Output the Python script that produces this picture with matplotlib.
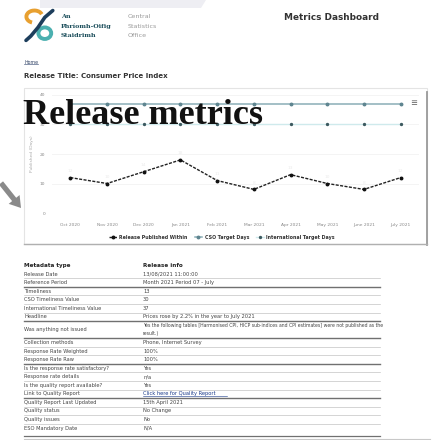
import matplotlib
matplotlib.use("Agg")
import matplotlib.pyplot as plt
from matplotlib.patches import Rectangle, Polygon, Circle, FancyArrow, Arc
from matplotlib.lines import Line2D

# ---------------- data ----------------
months = ["Oct 2020", "Nov 2020", "Dec 2020", "Jan 2021", "Feb 2021",
          "Mar 2021", "Apr 2021", "May 2021", "June 2021", "July 2021"]
published_within = [12, 10, 14, 18, 11, 8, 13, 10, 8, 12]
cso_target = [37, 37, 37, 37, 37, 37, 37, 37, 37, 37]
intl_target = [30, 30, 30, 30, 30, 30, 30, 30, 30, 30]
series_names = ["Release Published Within", "CSO Target Days", "International Target Days"]
y_ticks = [0, 10, 20, 30, 40]

meta_labels = ["Release Date", "Reference Period", "Timeliness", "CSO Timeliness Value",
               "International Timeliness Value", "Headline", "Was anything not issued",
               "Collection methods", "Response Rate Weighted", "Response Rate Raw",
               "Is the response rate satisfactory?", "Response rate details",
               "Is the quality report available?", "Link to Quality Report",
               "Quality Report Last Updated", "Quality status", "Quality issues",
               "ESO Mandatory Date"]
meta_values = ["13/08/2021 11:00:00", "Month 2021 Period 07 - July", "13", "30", "37",
               "Prices rose by 2.2% in the year to July 2021",
               "Yes the following tables [Harmonised CPI, HICP sub-indices and CPI estimates] were not published as the\nresult.)",
               "Phone, Internet Survey", "100%", "100%", "Yes", "n/a", "Yes",
               "Click here for Quality Report", "15th April 2021", "No Change", "No", "N/A"]

W, H = 436, 440
fig = plt.figure(figsize=(W / 100, H / 100), dpi=100)
fig.patch.set_facecolor("white")

def fx(x):
    return x / W

def fy(y):
    return 1 - y / H

# top grey tab
fig.patches.append(Polygon([(fx(40), fy(0)), (fx(206), fy(0)), (fx(201), fy(8)), (fx(40), fy(8))],
                           closed=True, transform=fig.transFigure, facecolor="#eeeef3",
                           edgecolor="none", zorder=-5))

# logo
lax = fig.add_axes([fx(20), fy(44), fx(40), (44 - 8) / H])
lax.set_xlim(0, 1); lax.set_ylim(0, 1); lax.axis("off")
lax.add_patch(Arc((0.36, 0.76), 0.40, 0.34, theta1=20, theta2=250, lw=2.8, color="#e8a030"))
lax.plot([0.82, 0.62, 0.45, 0.27, 0.15], [0.93, 0.74, 0.46, 0.22, 0.1], color="#1d3e5c", lw=2.6,
         solid_capstyle="round")
lax.add_patch(Circle((0.62, 0.3), 0.16, fill=False, lw=2.8, color="#4bb0b0"))

for yy, t in [(16.5, "An"), (26.5, "Phríomh-Oifig"), (35.5, "Staidrimh")]:
    fig.text(fx(61), fy(yy), t, fontsize=4.6, fontweight="bold", family="DejaVu Serif",
             color="#1d4f5c", va="center")
for yy, t in [(16.5, "Central"), (26.5, "Statistics"), (35.5, "Office")]:
    fig.text(fx(128), fy(yy), t, fontsize=4.6, color="#9a9a9a", va="center")

fig.text(fx(284), fy(17), "Metrics Dashboard", fontsize=6.4, fontweight="bold", color="#333333",
         va="center")
fig.text(fx(24), fy(62), "Home", fontsize=3.4, color="#334466", va="center")
fig.add_artist(Line2D([fx(24), fx(38)], [fy(64.5), fy(64.5)], color="#556688", lw=0.5))
fig.text(fx(24), fy(76), "Release Title: Consumer Price Index", fontsize=5.0, fontweight="bold",
         color="#333333", va="center")

# chart box
fig.patches.append(Rectangle((fx(24), fy(244)), fx(403), (244 - 88) / H, transform=fig.transFigure,
                             facecolor="white", edgecolor="#e4e4e4", lw=0.8, zorder=-5))
fig.add_artist(Line2D([fx(426.5), fx(426.5)], [fy(92), fy(245)], color="#9a9a9a", lw=1.3))
fig.add_artist(Line2D([fx(24), fx(427)], [fy(244.5), fy(244.5)], color="#b0b0b0", lw=1.0))

ax = fig.add_axes([fx(52), fy(213), fx(419 - 52), (213 - 95) / H])
ax.set_zorder(2)
x = list(range(len(months)))
ax.plot(x, intl_target, color="#cfeaec", lw=1.0, marker="o", ms=1.4, mfc="#3d5a60", mec="#3d5a60",
        label=series_names[2], zorder=2)
ax.plot(x, cso_target, color="#8aaeb6", lw=1.1, marker="o", ms=1.8, mfc="#5f8590", mec="#5f8590",
        label=series_names[1], zorder=3)
ax.plot(x, published_within, color="#222222", lw=1.0, ls=(0, (2.2, 1.0)), marker="o", ms=1.8,
        mfc="#111111", mec="#111111", label=series_names[0], zorder=4)
for xi, v in zip(x, published_within):
    ax.annotate(str(v), (xi, v), xytext=(0, 4), textcoords="offset points", ha="center",
                fontsize=3.2, color="#ececec")
ax.set_xlim(-0.5, len(months) - 0.5)
ax.set_ylim(0, 40)
ax.set_yticks(y_ticks)
ax.set_yticklabels([str(t) for t in y_ticks])
ax.set_xticks(x)
ax.set_xticklabels(months)
ax.tick_params(axis="both", length=0, labelsize=3.2, labelcolor="#888888")
ax.tick_params(axis="x", pad=7)
ax.tick_params(axis="y", pad=5)
for s in ax.spines.values():
    s.set_visible(False)
ax.grid(axis="y", color="#f2f2f2", lw=0.6)
ax.axhline(0, color="#e6e6e6", lw=0.6, ls=(0, (1, 1)))
ax.set_ylabel("Published (Days)", fontsize=3.2, color="#aaaaaa", labelpad=4)
ax.patch.set_alpha(0)

h, l = ax.get_legend_handles_labels()
order = [2, 1, 0]
leg = ax.legend([h[i] for i in order], [l[i] for i in order], loc="center",
                bbox_to_anchor=(fx(222), fy(237)), bbox_transform=fig.transFigure, ncol=3,
                frameon=False, fontsize=3.4, handlelength=1.6, columnspacing=1.5, handletextpad=0.5)
for t in leg.get_texts():
    t.set_color("#333333")
    t.set_fontweight("bold")

# menu icon
fig.text(fx(414), fy(103), "≡", fontsize=6, color="#777777", ha="center", va="center",
         fontweight="bold")

# big title overlay
fig.text(fx(23), fy(124), "Release metrics", fontsize=26, fontweight="bold",
         family="Liberation Serif", color="#111111", va="baseline", zorder=10)

# arrow
fig.patches.append(FancyArrow(fx(1), fy(183), fx(20), -(25 / H), width=0.012, head_width=0.032,
                              head_length=0.025, length_includes_head=True,
                              transform=fig.transFigure, color="#8a8a8a", lw=0))

# table
x1, x2, xr = 24, 143, 380
fs = 3.7
fig.text(fx(x1), fy(265), "Metadata type", fontsize=4.1, fontweight="bold", color="#222222", va="center")
fig.text(fx(x2), fy(265), "Release info", fontsize=4.1, fontweight="bold", color="#222222", va="center")
rh = 8.56
y = 274
thick_after = {1, 5, 6, 9, 13}
for i, (lab, val) in enumerate(zip(meta_labels, meta_values)):
    n = val.count("\n") + 1
    yc = y + rh * (n - 1) / 2
    fig.text(fx(x1), fy(yc), lab, fontsize=fs, color="#444444", va="center")
    if lab == "Link to Quality Report":
        fig.text(fx(x2), fy(yc), val, fontsize=fs, color="#1a3a8a", va="center")
        fig.add_artist(Line2D([fx(x2), fx(x2 + 84)], [fy(yc + 2.6), fy(yc + 2.6)], color="#1a3a8a", lw=0.4))
    else:
        fig.text(fx(x2), fy(yc), val, fontsize=(3.3 if n > 1 else fs), color="#444444",
                 va="center", linespacing=1.9)
    yl = y + rh * (n - 1) + rh / 2
    if i == len(meta_labels) - 1:
        break
    if i in thick_after:
        fig.add_artist(Line2D([fx(x1), fx(xr)], [fy(yl), fy(yl)], color="#707070", lw=1.0))
    else:
        fig.add_artist(Line2D([fx(x1), fx(xr)], [fy(yl), fy(yl)], color="#c4c4c4", lw=0.5))
    y += rh * n
fig.add_artist(Line2D([fx(x1), fx(xr)], [fy(436), fy(436)], color="#707070", lw=0.9))
fig.add_artist(Line2D([fx(x1), fx(430)], [fy(438.5), fy(438.5)], color="#c8c8c8", lw=0.8))

fig.savefig("out.png", dpi=100, facecolor="white")
